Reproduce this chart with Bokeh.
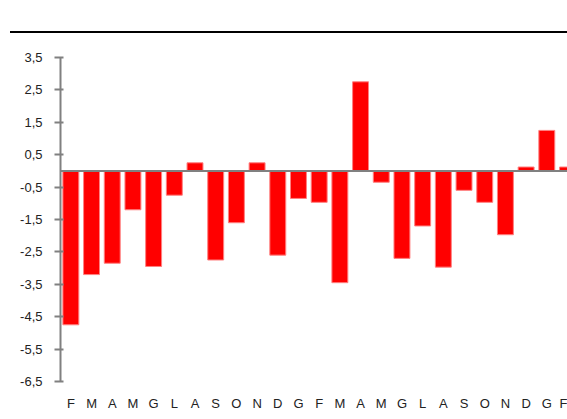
from bokeh.plotting import figure
from bokeh.models import Range1d, FixedTicker, CustomJSTickFormatter, Span, Div, ColumnDataSource
from bokeh.layouts import column
from bokeh.embed import file_html
from bokeh.resources import INLINE

months = ["F", "M", "A", "M", "G", "L", "A", "S", "O", "N", "D", "G",
          "F", "M", "A", "M", "G", "L", "A", "S", "O", "N", "D", "G", "F"]
values = [-4.75, -3.2, -2.85, -1.2, -2.95, -0.75, 0.25, -2.75, -1.6, 0.25, -2.6, -0.85,
          -0.97, -3.45, 2.75, -0.35, -2.7, -1.7, -2.97, -0.6, -0.97, -1.97, 0.12, 1.25, 0.12]
y_ticks = [-6.5, -5.5, -4.5, -3.5, -2.5, -1.5, -0.5, 0.5, 1.5, 2.5, 3.5]

pos = list(range(len(months)))
src = ColumnDataSource(dict(x=pos, top=values))

p = figure(width=567, height=384, output_backend="svg", toolbar_location=None,
           x_range=Range1d(-0.5, 24.0), y_range=Range1d(-6.5, 3.5),
           min_border_left=60, min_border_right=0, min_border_top=24, min_border_bottom=36)
p.outline_line_color = None
p.xgrid.visible = False
p.ygrid.visible = False
p.background_fill_color = "white"

p.vbar(x="x", top="top", bottom=0, width=0.77, source=src,
       fill_color="#ff0000", line_color="#ff8080", line_width=1)

p.add_layout(Span(location=0, dimension="width", line_color="#808080", line_width=2))

yax = p.yaxis[0]
yax.ticker = FixedTicker(ticks=y_ticks)
yax.formatter = CustomJSTickFormatter(code="return tick.toFixed(1).replace('.', ',');")
yax.axis_line_color = "#808080"
yax.axis_line_width = 2
yax.major_tick_line_color = "#808080"
yax.major_tick_line_width = 2
yax.major_tick_out = 6
yax.major_tick_in = 3
yax.minor_tick_line_color = None
yax.major_label_standoff = 12
yax.major_label_text_font = "Liberation Sans"
yax.major_label_text_font_size = "13px"
yax.major_label_text_color = "#222222"

xax = p.xaxis[0]
xax.ticker = FixedTicker(ticks=pos)
xax.major_label_overrides = {i: m for i, m in enumerate(months)}
xax.axis_line_color = None
xax.major_tick_line_color = None
xax.minor_tick_line_color = None
xax.major_tick_out = 0
xax.major_tick_in = 0
xax.major_label_standoff = 14
xax.major_label_text_font = "Liberation Sans"
xax.major_label_text_font_size = "13px"
xax.major_label_text_color = "#222222"

top = Div(text="", width=557, height=23, margin=(8, 0, 0, 10),
          styles={"border-bottom": "2px solid #000000", "box-sizing": "content-box"})

layout = column(top, p, spacing=0)
open("out.html", "w").write(file_html(layout, INLINE))
